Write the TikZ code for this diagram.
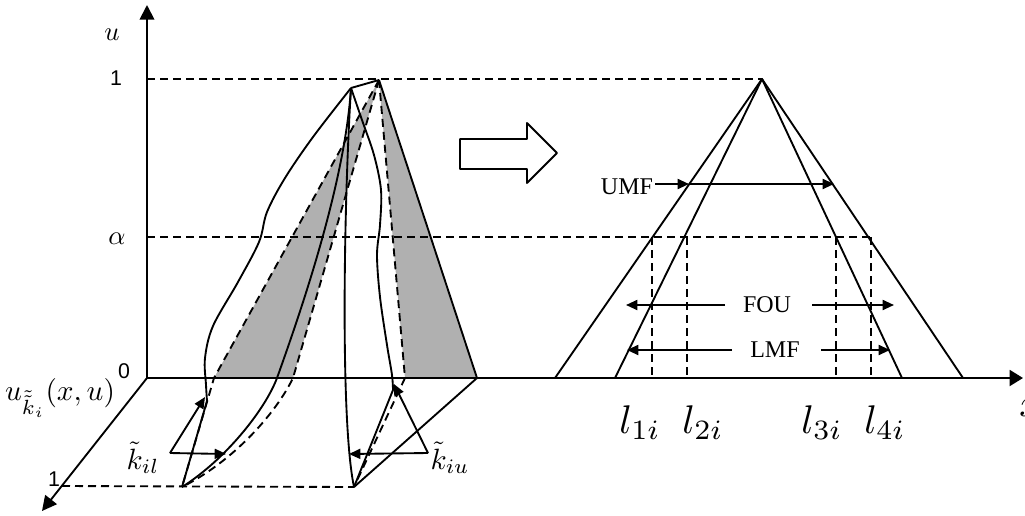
\documentclass[tikz,border=0pt]{standalone}
\usepackage{graphicx}
\usepackage{fontspec}
\setmainfont{Liberation Serif}
\newfontfamily\arialf{Liberation Sans}
\usetikzlibrary{arrows.meta}
\definecolor{greyfill}{RGB}{176,176,176}
\begin{document}
\begin{tikzpicture}[x=0.75pt,y=-0.75pt,
  ln/.style={line width=1.4pt, line join=round},
  dsh/.style={line width=1.4pt, dash pattern=on 6pt off 3.75pt},
  tip/.style={-{Triangle[length=8.5pt,width=7.5pt]}},
  bigtip/.style={-{Triangle[length=11pt,width=11pt]}},
  sanslbl/.style={inner sep=0pt, font=\arialf\fontsize{16}{18}\selectfont},
  lbl/.style={inner sep=0pt},
  txtlbl/.style={inner sep=0pt, font=\fontsize{18}{20}\selectfont}]
\useasboundingbox[fill=white] (0,0) rectangle (1025,515);

% coordinates
\coordinate (O) at (147,378);
\coordinate (Utip) at (147,5);
\coordinate (Xtip) at (1023,378);
\coordinate (Dtip) at (42,511);
\coordinate (D1) at (62,486);
\coordinate (A) at (379,80);
\coordinate (B) at (351,88);
\coordinate (L) at (182,487);
\coordinate (R) at (354,487);
\coordinate (G1) at (214,378);
\coordinate (G2) at (293,378);
\coordinate (G3) at (405,378);
\coordinate (G4) at (477,378);
\coordinate (S1) at (277,378);
\coordinate (P) at (762,79);
\coordinate (Q1) at (555,378);
\coordinate (Q2) at (615,378);
\coordinate (Q3) at (902,378);
\coordinate (Q4) at (963,378);
\coordinate (One) at (147,79);
\coordinate (Al) at (147,237);
\coordinate (AlE) at (871,237);
\coordinate (V1t) at (652,237); \coordinate (V1b) at (652,378);
\coordinate (V2t) at (687,237); \coordinate (V2b) at (687,378);
\coordinate (V3t) at (836,237); \coordinate (V3b) at (836,378);
\coordinate (V4t) at (871,237); \coordinate (V4b) at (871,378);

% grey regions
\fill[greyfill] (A) -- (G1) -- (G2) -- cycle;
\fill[greyfill] (A) -- (G3) -- (G4) -- cycle;

% axes
\draw[ln, bigtip] (O) -- (Utip);
\draw[ln, -{Triangle[length=10pt,width=12pt]}] (O) -- (Xtip);
\draw[ln, bigtip] (O) -- (Dtip);

% dashed guides
\draw[dsh] (One) -- (P);
\draw[dsh] (Al) -- (AlE);
\draw[dsh] (D1) -- (R);
\draw[dsh] (V1t) -- (V1b);
\draw[dsh] (V2t) -- (V2b);
\draw[dsh] (V3t) -- (V3b);
\draw[dsh] (V4t) -- (V4b);

% 3D figure
\draw[ln] (B) -- (A);
\draw[dsh] (A) -- (G1) -- (L);
\draw[dsh] (A) -- (G2) .. controls (275,415) and (232,462) .. (L);
\draw[dsh] (A) -- (G3) -- (R);
\draw[ln] (A) -- (G4) -- (R);
\draw[ln] (B) .. controls (345,180) and (305,300) .. (S1) .. controls (265,410) and (225,460) .. (L);
\draw[ln] (B) .. controls (344,200) and (340,420) .. (R);
\draw[ln] plot[smooth, tension=0.55] coordinates {(351,88) (313,137) (285,178) (267,212) (259,242) (238,282) (213,326) (205,358) (206,385) (207,401)} -- (L);
\draw[ln] plot[smooth, tension=0.55] coordinates {(351,88) (362,120) (374,155) (381,190) (380,225) (377,255) (380,297) (387,345) (392,375) (393,390)} -- (R);

% k tilde arrows
\coordinate (Kl) at (170,453); \coordinate (Kl1) at (226,454); \coordinate (Kl2) at (205,397);
\draw[ln, tip] (Kl) -- (Kl1);
\draw[ln, tip] (Kl) -- (Kl2);
\coordinate (Ku) at (428,453); \coordinate (Ku1) at (349,454); \coordinate (Ku2) at (394,384);
\draw[ln, tip] (Ku) -- (Ku1);
\draw[ln, tip] (Ku) -- (Ku2);

% right figure
\draw[ln] (Q1) -- (P) -- (Q4);
\draw[ln] (Q2) -- (P) -- (Q3);

% block arrow
\draw[ln] (460,139) -- (527,139) -- (527,123) -- (557,153) -- (527,183) -- (527,169) -- (460,169) -- cycle;

% UMF / FOU / LMF
\node[txtlbl] (umf) at (627,187) {UMF};
\coordinate (U0) at (655,184); \coordinate (U1) at (689,184); \coordinate (U2) at (834,184);
\draw[ln, tip] (U0) -- (U1);
\draw[ln, tip] (U1) -- (U2);
\node[txtlbl] (fou) at (767,305) {FOU};
\coordinate (F0) at (725,305); \coordinate (F1) at (626,305);
\coordinate (F2) at (812,305); \coordinate (F3) at (894,305);
\draw[ln, tip] (F0) -- (F1);
\draw[ln, tip] (F2) -- (F3);
\node[txtlbl] (lmf) at (775,350) {LMF};
\coordinate (M0) at (732,350); \coordinate (M1) at (627,350);
\coordinate (M2) at (821,350); \coordinate (M3) at (890,350);
\draw[ln, tip] (M0) -- (M1);
\draw[ln, tip] (M2) -- (M3);

% labels
\node[lbl] (lu) at (112,35) {\scalebox{2}{$u$}};
\node[sanslbl] (l1) at (116,78) {1};
\node[lbl] (lal) at (117,239) {\scalebox{2}{$\alpha$}};
\node[sanslbl] (l0) at (124,371) {0};
\node[sanslbl] (ld1) at (54,479) {1};
\node[lbl] (lmu) at (60,398) {\scalebox{2.2}{$u_{\tilde{\tilde{k}}_i}(x,u)$}};
\node[lbl] (lkil) at (143,458) {\scalebox{2.2}{$\tilde{k}_{il}$}};
\node[lbl] (lkiu) at (450,458) {\scalebox{2.2}{$\tilde{k}_{iu}$}};
\node[lbl] (la) at (640,423) {\scalebox{3}{$l_{1i}$}};
\node[lbl] (lb) at (703,423) {\scalebox{3}{$l_{2i}$}};
\node[lbl] (lc) at (822,423) {\scalebox{3}{$l_{3i}$}};
\node[lbl] (ld) at (885,423) {\scalebox{3}{$l_{4i}$}};
\node[lbl, anchor=west] (lx) at (1019,408) {\scalebox{3}{$x$}};
\end{tikzpicture}
\end{document}
